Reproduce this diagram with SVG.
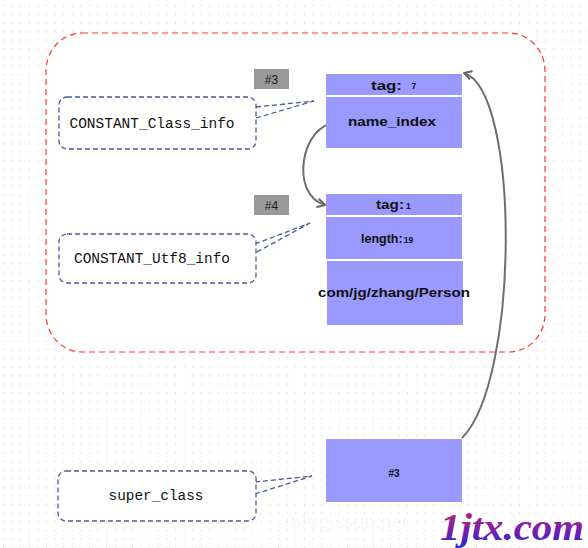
<svg xmlns="http://www.w3.org/2000/svg" width="588" height="548" viewBox="0 0 588 548">
<defs>
<pattern id="dots" x="3" y="5" width="8.6" height="8.6" patternUnits="userSpaceOnUse">
<rect x="0" y="0" width="1" height="1.5" fill="#d9d9d9"/>
</pattern>
<linearGradient id="wm" x1="0" y1="0" x2="0" y2="1">
<stop offset="0" stop-color="#c02a78"/>
<stop offset="0.55" stop-color="#7a20a8"/>
<stop offset="1" stop-color="#2a24d8"/>
</linearGradient>
<marker id="arr" viewBox="0 0 10 10" refX="8" refY="5" markerWidth="10" markerHeight="10" markerUnits="userSpaceOnUse" orient="auto">
<path d="M1,1 L8,5 L1,9" fill="none" stroke="#666" stroke-width="2" stroke-linecap="round" stroke-linejoin="round"/>
</marker>
<style>
.cell{fill:#9999ff;}
.lbl{fill:#fff;stroke:#4a5a9c;stroke-width:1.3;stroke-dasharray:5 3;}
.lt{font-family:"Liberation Mono","DejaVu Sans Mono",monospace;font-size:14.5px;fill:#111;text-anchor:middle;}
.bt{font-family:"Liberation Sans","DejaVu Sans",sans-serif;font-weight:bold;fill:#111;}
.tagbox{fill:#999;}
.tagt{font-family:"Liberation Sans","DejaVu Sans",sans-serif;font-size:12px;fill:#1a1a1a;text-anchor:middle;}
.dl{fill:none;stroke:#4a5a9c;stroke-width:1.3;stroke-dasharray:5 3;}
.cv{fill:none;stroke:#6e6e6e;stroke-width:2;}
</style>
</defs>
<rect x="0" y="0" width="588" height="548" fill="#fff"/>
<rect x="0" y="0" width="588" height="548" fill="url(#dots)"/>
<rect id="frame" x="46" y="33" width="499" height="319" rx="36" ry="38" fill="#fff" stroke="#ff3333" stroke-width="1.2" stroke-dasharray="6 4"/>

<g id="watermark">
<text x="278" y="528" font-family="Liberation Serif,serif" font-size="22" fill="#000" fill-opacity="0.05">//blog.csdn.net</text>
<text x="440" y="540" font-family="Liberation Serif,serif" font-size="37" font-weight="bold" font-style="italic" fill="url(#wm)" textLength="144" lengthAdjust="spacingAndGlyphs">1jtx.com</text>
</g>

<g id="connectors">
<line class="dl" x1="256" y1="107" x2="314" y2="101"/>
<line class="dl" x1="256" y1="118" x2="314" y2="101"/>
<line class="dl" x1="255" y1="244" x2="310" y2="223"/>
<line class="dl" x1="257" y1="252" x2="310" y2="223"/>
<line class="dl" x1="255" y1="482" x2="312" y2="476"/>
<line class="dl" x1="255" y1="494" x2="312" y2="476"/>
<path class="cv" d="M337,123 C301,123 289,195 325,205" marker-end="url(#arr)"/>
<path class="cv" d="M462,438 C520,380 520,90 464,73" marker-end="url(#arr)"/>
</g>

<g id="tag3">
<rect class="tagbox" x="254" y="69" width="35" height="20"/>
<text class="tagt" x="271.5" y="83.5">#3</text>
</g>
<g id="tag4">
<rect class="tagbox" x="254" y="195" width="35" height="20"/>
<text class="tagt" x="271.5" y="209.5">#4</text>
</g>

<g id="class-tag">
<rect class="cell" x="326" y="74" width="136" height="21"/>
<text class="bt" x="371" y="89.5" font-size="13.5" textLength="31" lengthAdjust="spacingAndGlyphs">tag:</text>
<text class="bt" x="411.5" y="89" font-size="8.5">7</text>
</g>
<g id="class-name-index">
<rect class="cell" x="326" y="97" width="136" height="51"/>
<text class="bt" x="348" y="126" font-size="13.5" textLength="88" lengthAdjust="spacingAndGlyphs">name_index</text>
</g>

<g id="utf8-tag">
<rect class="cell" x="326" y="194" width="136" height="21"/>
<text class="bt" x="376" y="208.5" font-size="13.5" textLength="28" lengthAdjust="spacingAndGlyphs">tag:</text>
<text class="bt" x="406" y="208.5" font-size="8.5">1</text>
</g>
<g id="utf8-length">
<rect class="cell" x="326" y="217" width="136" height="42"/>
<text class="bt" x="361" y="242.5" font-size="12.5">length:<tspan font-size="8.5" dx="1">19</tspan></text>
</g>
<g id="utf8-bytes">
<rect class="cell" x="327" y="261" width="136" height="64"/>
<text class="bt" x="318" y="297" font-size="13" textLength="152" lengthAdjust="spacingAndGlyphs">com/jg/zhang/Person</text>
</g>

<g id="super-ref">
<rect class="cell" x="326" y="439" width="136" height="63"/>
<text class="bt" x="394" y="477" font-size="10" text-anchor="middle">#3</text>
</g>

<g id="label-class">
<rect class="lbl" x="59" y="97" width="197" height="52" rx="8"/>
<text class="lt" x="152" y="128" textLength="165" lengthAdjust="spacingAndGlyphs">CONSTANT_Class_info</text>
</g>
<g id="label-utf8">
<rect class="lbl" x="59" y="234" width="197" height="49" rx="8"/>
<text class="lt" x="152" y="263" textLength="156" lengthAdjust="spacingAndGlyphs">CONSTANT_Utf8_info</text>
</g>
<g id="label-super">
<rect class="lbl" x="58" y="471" width="198" height="50" rx="8"/>
<text class="lt" x="156" y="500" textLength="95" lengthAdjust="spacingAndGlyphs">super_class</text>
</g>
</svg>
